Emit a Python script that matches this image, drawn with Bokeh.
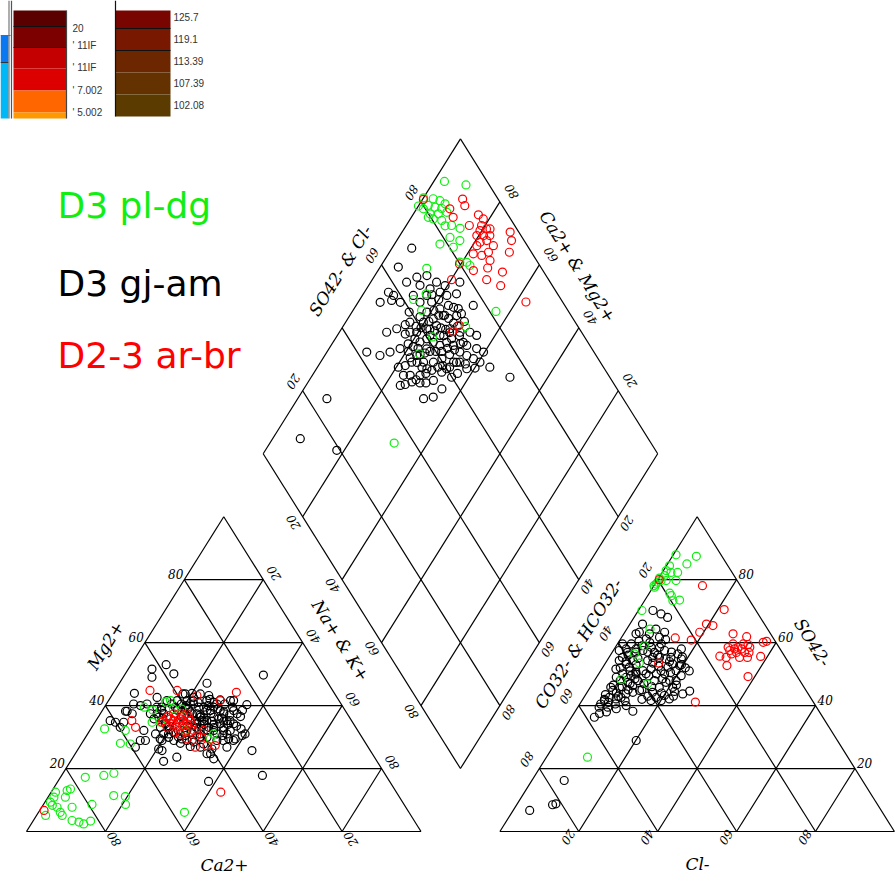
import numpy as np
from bokeh.plotting import figure
from bokeh.models import Range1d
from bokeh.embed import file_html
from bokeh.resources import INLINE
from bokeh.core.properties import value

# ---------------- data (percent values) ----------------
# cation triangle: (Mg2+ %, Na+ + K+ %)
green_cations = [(5.1, 2.3), (9.3, 1.4), (10.9, 1.5), (12.5, 1.1), (8.3, 2.4), (7.7, 3.9), (6.1, 5.5),
                 (5.1, 6.5), (10.9, 4.4), (13.0, 3.8), (13.5, 4.4), (7.7, 7.7), (3.5, 9.8), (3.0, 11.8),
                 (2.4, 13.3), (3.3, 14.6), (17.2, 6.3), (8.6, 12.3), (17.8, 10.7), (18.5, 12.9),
                 (11.4, 16.4), (11.1, 19.5), (8.6, 20.8), (6.1, 37.0), (32.6, 3.5), (28.0, 9.8),
                 (32.1, 9.0), (27.8, 12.4), (39.5, 10.1), (38.6, 12.7), (34.7, 14.5), (34.7, 16.6),
                 (41.1, 14.7), (41.6, 15.7), (38.9, 17.8), (38.9, 19.9), (32.1, 24.2), (31.0, 31.9),
                 (29.4, 31.9)]
black_cations = [(51.6, 6.0), (53.0, 8.9), (50.1, 12.3), (49.0, 7.3), (47.1, 22.2), (49.7, 35.2),
                 (43.9, 5.4), (38.2, 6.0), (34.7, 7.3), (34.7, 5.2), (35.2, 3.6), (33.1, 7.2),
                 (26.8, 14.2), (28.9, 14.4), (28.9, 15.7), (32.1, 13.7), (29.4, 19.2), (26.2, 20.4),
                 (25.7, 21.5), (22.3, 23.6), (23.6, 26.3), (23.1, 35.9), (24.7, 34.3), (28.9, 38.0),
                 (30.5, 39.4), (31.0, 39.9), (25.7, 44.3), (26.8, 37.4), (29.4, 38.2), (40.3, 35.7),
                 (41.6, 30.9), (41.8, 28.2), (43.2, 24.6), (43.7, 22.2), (43.9, 20.0), (43.7, 18.4),
                 (41.6, 17.4), (41.6, 14.8), (42.6, 11.8), (40.5, 10.3), (40.0, 8.9), (40.5, 6.9),
                 (38.2, 6.4), (37.4, 8.1), (37.4, 12.7), (37.4, 14.4), (36.3, 15.4), (35.8, 14.4),
                 (33.1, 17.4), (31.0, 19.3), (28.9, 19.9), (31.0, 17.2), (32.1, 24.6), (28.9, 26.2),
                 (26.8, 30.7), (24.7, 33.4), (28.9, 33.8), (31.0, 35.3), (32.1, 33.9), (34.2, 32.0),
                 (36.3, 29.3), (38.4, 27.4), (39.5, 25.2), (36.3, 25.9), (35.2, 28.1), (32.1, 31.4),
                 (31.0, 32.8), (35.2, 33.2), (38.4, 33.3), (37.4, 34.7), (35.2, 34.0), (37.4, 31.3),
                 (38.4, 29.9), (40.5, 28.0), (41.6, 24.9), (39.5, 23.9), (40.5, 22.1), (41.6, 19.9),
                 (37.4, 24.5), (35.2, 26.9), (39.5, 27.7), (32.1, 35.6), (34.2, 35.4), (29.9, 30.8),
                 (27.8, 31.0), (26.2, 33.9), (28.4, 28.2), (29.4, 24.7), (28.9, 22.9), (29.9, 21.1),
                 (34.2, 18.1), (39.5, 13.3), (41.6, 31.7), (32.6, 38.1), (17.8, 50.9), (15.9, 38.2),
                 (43.7, 17.8), (42.6, 21.0), (37.4, 23.3), (34.2, 26.1), (33.1, 29.6), (35.8, 30.8),
                 (31.0, 28.5), (35.2, 25.2), (28.9, 35.4),
                 (40.0, 20.5), (39.0, 21.5), (38.0, 22.5), (37.0, 25.5), (36.0, 27.0), (35.0, 29.5),
                 (34.0, 30.5), (33.0, 31.0), (32.5, 27.5), (33.5, 24.0), (34.5, 22.5), (36.5, 21.0),
                 (38.5, 19.0), (39.5, 18.0), (40.5, 16.5), (41.0, 23.0), (40.0, 26.0), (39.0, 29.0),
                 (38.0, 31.0), (37.0, 33.0), (36.0, 31.5), (35.0, 32.5), (34.0, 34.0), (33.0, 33.5),
                 (32.0, 30.0), (31.5, 26.0), (30.5, 25.0), (30.0, 23.5), (31.5, 21.5), (32.5, 20.0),
                 (33.5, 19.5), (36.0, 16.5), (37.5, 16.0), (38.5, 15.0), (39.5, 14.5), (35.5, 24.0),
                 (36.5, 26.0), (37.5, 28.0), (38.5, 26.5), (39.5, 20.5), (40.5, 19.0), (41.5, 21.5),
                 (42.0, 25.5), (41.0, 27.0), (30.0, 29.0), (29.0, 27.5), (28.0, 25.0), (27.0, 28.0),
                 (30.5, 34.5), (29.5, 36.5), (33.5, 36.5), (36.5, 36.0), (38.5, 35.5), (39.5, 32.5),
                 (40.5, 30.0), (34.0, 28.0), (35.0, 27.5), (33.0, 26.5), (32.0, 22.5), (31.0, 20.5)]
red_cations = [(6.7, 1.1), (44.8, 8.9), (35.2, 9.1), (33.1, 11.1), (44.8, 15.8), (43.2, 21.6),
               (41.6, 28.3), (44.2, 31.1), (35.2, 17.1), (36.8, 17.6), (37.4, 18.6), (36.3, 19.5),
               (35.8, 21.1), (36.8, 21.4), (37.4, 22.0), (34.2, 19.8), (33.1, 21.6), (33.7, 22.6),
               (34.2, 23.6), (35.2, 23.9), (33.1, 19.1), (31.5, 22.0), (31.5, 24.5), (31.0, 23.5),
               (32.1, 26.3), (35.8, 18.6), (34.7, 21.2), (35.2, 22.2), (36.3, 23.0), (37.4, 20.7),
               (35.2, 19.6), (36.3, 17.5), (33.7, 25.1), (29.4, 26.0), (26.8, 29.4), (29.9, 29.5),
               (27.3, 32.1), (27.3, 34.2), (32.1, 28.9), (30.5, 27.9), (12.5, 43.0), (34.7, 17.0)]

# anion triangle: (SO4 2- %, Cl- %)
green_anions = [(87.9, 0.7), (87.4, 6.1), (85.0, 4.9), (84.4, 0.8), (82.9, 0.7), (81.3, 1.1), (79.7, 1.0),
                (78.6, 0.3), (77.6, 0.4), (79.7, 2.3), (82.3, 2.2), (82.3, 3.9), (79.7, 4.8), (73.5, 8.8),
                (73.3, 7.2), (74.9, 6.0), (75.7, 5.2), (80.5, 0.2), (79.2, 0.4), (78.1, 0.0), (70.2, 0.9),
                (64.3, 5.9), (59.0, 7.1), (56.4, 5.9), (53.5, 8.6), (48.3, 6.6), (46.9, 14.0), (23.6, 10.4)]
black_anions = [(70.2, 3.7), (68.0, 8.5), (69.1, 6.3), (65.9, 3.2), (63.3, 3.7), (62.8, 6.5), (64.3, 7.4),
                (63.3, 10.1), (61.7, 9.6), (61.2, 6.5), (62.8, 3.1), (59.6, 3.5), (59.6, 1.3), (57.5, 1.5),
                (56.9, 3.9), (58.0, 5.5), (57.5, 7.5), (58.5, 9.1), (58.5, 11.2), (59.6, 11.1), (54.3, 3.1),
                (53.2, 5.4), (51.6, 3.6), (52.2, 6.7), (50.1, 6.1), (49.5, 8.5), (50.6, 9.2), (51.1, 10.7),
                (47.9, 11.0), (47.4, 8.7), (45.8, 7.4), (44.8, 6.2), (42.6, 6.4), (42.1, 8.4), (43.7, 10.1),
                (44.2, 11.6), (44.8, 13.0), (41.6, 5.7), (39.5, 5.4), (39.5, 7.6), (36.3, 5.8), (38.2, 14.6),
                (28.9, 20.1), (40.5, 5.3), (50.1, 12.0), (51.6, 12.5), (50.1, 14.6), (51.1, 15.3),
                (50.1, 16.7), (52.2, 16.5), (53.2, 17.2), (55.3, 15.7), (56.4, 16.9), (54.8, 18.6),
                (52.7, 19.2), (51.1, 19.1), (49.5, 21.2), (47.9, 20.7), (47.4, 18.4), (45.8, 17.5),
                (44.2, 16.6), (42.6, 18.3), (43.2, 20.1), (42.1, 21.9), (41.6, 20.1), (41.6, 17.5),
                (43.7, 24.5), (44.6, 25.8), (54.8, 14.7), (55.3, 12.8), (55.3, 11.1), (54.3, 10.3),
                (56.9, 10.7), (57.5, 13.0), (16.2, 8.2), (8.8, 9.8), (6.7, 4.2), (8.5, 9.1), (55.3, 3.4),
                (54.3, 6.5), (49.0, 7.5), (46.3, 10.5), (42.6, 9.4), (45.8, 5.2), (47.9, 15.2), (45.8, 20.9),
                (60.5, 5.0), (59.0, 6.5), (58.0, 3.0), (57.0, 6.0), (56.0, 4.5), (55.0, 7.5), (54.0, 5.0),
                (53.0, 8.0), (52.0, 4.5), (51.0, 7.5), (50.0, 9.5), (49.0, 5.0), (48.5, 10.0), (48.0, 6.5),
                (47.0, 9.5), (46.5, 5.5), (46.0, 8.0), (45.0, 10.0), (44.0, 7.5), (43.5, 5.0), (43.0, 8.5),
                (42.0, 5.5), (41.0, 7.0), (40.5, 9.0), (41.5, 11.0), (60.0, 8.0), (61.0, 11.5), (57.0, 9.0),
                (56.0, 12.0), (53.5, 12.0), (52.5, 14.0), (49.5, 13.0), (48.5, 17.0), (47.0, 13.0),
                (46.0, 15.5), (45.0, 13.5), (44.0, 19.0), (43.0, 16.0), (42.0, 15.0), (53.0, 19.5),
                (52.0, 21.0), (50.5, 18.0), (48.0, 19.0), (46.5, 21.5), (44.5, 22.0), (43.0, 22.5),
                (51.0, 22.5), (55.5, 18.5), (54.0, 16.0), (57.0, 15.0), (58.0, 17.0), (40.0, 12.0),
                (39.0, 10.0), (38.0, 8.0), (37.5, 6.5)]
red_anions = [(80.0, 0.4), (78.1, 12.3), (70.5, 21.6), (65.9, 19.4), (65.4, 21.3), (63.3, 19.0), (60.8, 18.1),
              (61.5, 13.7), (53.5, 13.5), (41.1, 29.0), (62.8, 27.7), (61.9, 31.6), (58.5, 28.6), (59.6, 29.3),
              (58.5, 31.1), (59.6, 31.9), (59.4, 33.2), (56.9, 31.5), (56.4, 30.5), (55.3, 33.1), (55.3, 29.7),
              (56.9, 33.6), (58.0, 30.5), (58.0, 32.2), (58.5, 34.1), (57.5, 29.5), (60.1, 36.7), (60.4, 37.4),
              (55.6, 38.3), (56.9, 34.7), (55.7, 27.9), (52.7, 31.2), (49.2, 38.3), (55.3, 35.1)]

# diamond: (Na+ + K+ %, SO4 2- + Cl- %)
green_diamond = [(2.7, 89.2), (8.7, 94.1), (0.0, 81.3), (0.0, 78.7), (1.7, 79.5), (2.4, 81.3), (2.6, 83.6),
                 (4.6, 85.0), (4.4, 82.7), (6.3, 84.2), (6.4, 85.8), (4.2, 80.4), (6.3, 82.5), (8.2, 84.9),
                 (4.3, 79.4), (5.8, 80.4), (8.2, 82.3), (9.9, 82.3), (11.5, 84.0), (14.1, 85.7), (13.0, 81.7),
                 (16.0, 83.7), (11.5, 78.1), (15.4, 81.0), (12.0, 70.9), (19.4, 80.3), (21.2, 82.0),
                 (22.5, 82.3), (15.9, 66.7), (13.6, 62.6), (17.4, 62.9), (24.4, 61.5), (23.7, 55.5),
                 (31.1, 71.5), (36.4, 81.6), (31.5, 34.9)]
black_diamond = [(5.0, 70.3), (4.6, 63.9), (6.1, 57.4), (7.9, 58.2), (5.6, 53.7), (9.1, 63.6), (10.9, 67.0),
                 (13.2, 69.8), (16.7, 71.2), (19.4, 72.8), (13.0, 66.5), (16.1, 68.5), (19.2, 70.5),
                 (21.4, 71.7), (23.6, 74.4), (22.6, 77.1), (29.7, 76.8), (12.0, 50.6), (14.0, 53.7),
                 (10.1, 42.4), (14.0, 45.2), (16.0, 48.3), (18.0, 51.4), (19.3, 54.2), (20.2, 56.7),
                 (16.3, 58.1), (19.7, 61.5), (21.7, 64.5), (23.7, 67.6), (27.5, 67.2), (30.6, 69.2),
                 (33.1, 71.7), (37.4, 70.8), (38.2, 68.4), (36.0, 67.2), (33.7, 66.0), (31.0, 65.4),
                 (28.8, 64.2), (26.0, 63.6), (23.5, 61.1), (19.6, 58.2), (17.9, 56.5), (23.3, 54.5),
                 (24.8, 58.1), (28.6, 57.7), (30.2, 60.4), (33.0, 60.0), (28.0, 55.0), (27.3, 52.2),
                 (31.5, 54.8), (32.3, 58.2), (35.6, 59.9), (24.8, 49.7), (23.1, 48.0), (23.9, 45.6),
                 (26.3, 49.1), (31.9, 49.4), (34.1, 52.1), (35.0, 55.6), (38.1, 65.1), (40.1, 67.3),
                 (43.7, 71.2), (50.4, 74.7), (33.0, 68.4), (21.6, 61.3), (23.6, 64.3), (15.7, 63.8),
                 (18.6, 66.8), (23.4, 70.5), (27.1, 71.0), (26.4, 72.5), (7.4, 24.9), (7.0, 11.8),
                 (18.1, 19.2), (40.4, 69.5), (39.7, 72.0), (27.6, 62.0), (25.4, 60.8), (22.0, 57.5),
                 (23.2, 59.7), (23.1, 52.2), (26.1, 55.2), (33.7, 62.8), (35.3, 64.4), (34.4, 68.8),
                 (35.3, 72.9), (21.8, 67.8), (16.3, 66.6), (12.9, 63.2), (10.7, 58.8), (8.2, 56.9),
                 (20.0, 60.0), (21.0, 63.0), (22.5, 62.0), (24.0, 63.0), (25.0, 65.0), (26.5, 66.0),
                 (27.0, 64.5), (28.0, 66.5), (29.5, 66.0), (30.0, 63.5), (31.5, 63.0), (32.0, 65.0),
                 (29.0, 61.5), (27.5, 60.0), (26.0, 58.5), (25.0, 57.0), (24.0, 55.5), (22.5, 56.0),
                 (21.0, 55.0), (20.5, 53.0), (22.0, 52.5), (24.5, 53.5), (26.5, 54.0), (28.5, 54.0),
                 (29.5, 56.0), (30.5, 58.0), (31.5, 59.5), (33.5, 61.0), (34.5, 63.5), (32.5, 67.5),
                 (31.0, 68.5), (29.0, 69.5), (27.5, 69.0), (25.5, 68.5), (24.0, 68.0), (22.5, 66.5),
                 (20.5, 66.0), (19.0, 64.0), (18.0, 61.5), (18.5, 59.0), (17.0, 55.0), (15.5, 56.5),
                 (14.5, 59.5), (17.5, 68.0), (20.0, 69.0), (25.0, 71.5), (28.0, 72.5), (30.0, 72.0),
                 (36.5, 62.0), (37.0, 65.5), (28.5, 51.0), (30.0, 52.5), (27.0, 50.5), (22.0, 50.0),
                 (20.5, 48.0), (25.0, 47.0)]
red_diamond = [(0.2, 81.0), (8.4, 86.2), (10.6, 85.7), (10.1, 91.0), (11.7, 90.5), (16.6, 92.5), (18.5, 93.1),
               (19.1, 91.6), (20.9, 92.3), (19.5, 90.4), (21.8, 93.2), (19.5, 88.8), (21.2, 90.5), (22.8, 92.1),
               (21.4, 88.6), (22.8, 90.5), (25.3, 91.4), (21.1, 87.2), (21.5, 85.0), (23.9, 86.9), (25.1, 89.1),
               (16.0, 88.5), (26.8, 88.2), (27.4, 97.8), (29.1, 96.8), (30.4, 94.4), (24.2, 82.4), (27.4, 86.4),
               (31.8, 89.5), (33.5, 86.9), (29.0, 84.3), (42.5, 90.7), (19.6, 79.9), (20.1, 75.4),
               (28.6, 67.4), (29.3, 70.1)]

group_names = ["D3 pl-dg", "D3 gj-am", "D2-3 ar-br"]
group_colors = ["#11ee11", "#000000", "#ff0000"]

ticks = [20, 40, 60, 80]

# colour-bar fragments in the top-left corner (labels as seen)
bar_red_labels = ["20", "' 11IF", "' 11IF", "' 7.002", "' 5.002"]
bar_brown_labels = ["125.7", "119.1", "113.39", "107.39", "102.08"]

# ---------------- geometry ----------------
W, H = 895, 889
SX, SY = 3.945, 3.635      # pixels per unit (side of a triangle = 100 units)
X0, Y0 = 26.0, 831.0       # pixel position of the Ca2+ corner
R3 = np.sqrt(3) / 2
GAP = 20.0

def px(xp):
    return (xp - X0) / SX

def py(yp):
    return (Y0 - yp) / SY

def cat_xy(mg, nak):
    return nak + mg / 2.0, mg * R3

def an_xy(so4, cl):
    return 100 + GAP + cl + so4 / 2.0, so4 * R3

BX, BY = 100 + GAP / 2.0, GAP * R3
LX, LY = BX - 50.0, BY + 100 * R3

def dia_xy(nak, sc):
    return LX + 0.5 * nak + 0.5 * sc, LY - R3 * nak + R3 * sc

p = figure(width=W, height=H, x_range=Range1d(px(0), px(W)), y_range=Range1d(py(H), py(0)),
           output_backend="svg", toolbar_location=None, min_border=0,
           x_axis_location=None, y_axis_location=None)
p.grid.visible = False
p.outline_line_color = None
p.background_fill_color = "white"
p.border_fill_color = "white"

# ---------------- grids ----------------
xs, ys = [], []
def seg(a, b):
    xs.append([a[0], b[0]]); ys.append([a[1], b[1]])

for f in (cat_xy, an_xy):
    seg(f(0, 0), f(0, 100)); seg(f(0, 100), f(100, 0)); seg(f(100, 0), f(0, 0))
    for t in ticks:
        seg(f(t, 0), f(t, 100 - t))
        seg(f(0, t), f(100 - t, t))
        seg(f(0, 100 - t), f(100 - t, 0))
seg(dia_xy(0, 0), dia_xy(100, 0)); seg(dia_xy(100, 0), dia_xy(100, 100))
seg(dia_xy(100, 100), dia_xy(0, 100)); seg(dia_xy(0, 100), dia_xy(0, 0))
for t in ticks:
    seg(dia_xy(t, 0), dia_xy(t, 100))
    seg(dia_xy(0, t), dia_xy(100, t))
p.multi_line(xs, ys, line_color="black", line_width=1.2)

# ---------------- points ----------------
groups = [
    (black_cations, black_anions, black_diamond, group_colors[1]),
    (green_cations, green_anions, green_diamond, group_colors[0]),
    (red_cations, red_anions, red_diamond, group_colors[2]),
]
for cats, ans, dia, col in groups:
    pts = [cat_xy(a, b) for a, b in cats] + [an_xy(a, b) for a, b in ans] + [dia_xy(a, b) for a, b in dia]
    p.scatter([q[0] for q in pts], [q[1] for q in pts], marker="circle", size=8,
              fill_color=None, line_color=col, line_width=1.2)

# ---------------- tick labels ----------------
FONT = value("DejaVu Serif")

def labels(pts, texts, off, ang, align="center", base="middle", size="12px"):
    p.text([q[0] + off[0] / SX for q in pts], [q[1] - off[1] / SY for q in pts], text=texts,
           angle=np.deg2rad(ang), text_font=FONT, text_font_style="italic", text_font_size=size,
           text_align=align, text_baseline=base, text_color="black")

rev = [str(t) for t in ticks[::-1]]
fwd = [str(t) for t in ticks]
# cation triangle
labels([cat_xy(t, 0) for t in ticks[::-1]], rev, (-1, -1), 0, "right", "bottom")
labels([cat_xy(t, 100 - t) for t in ticks[::-1]], fwd, (10, -6), 122)
labels([cat_xy(0, 100 - t) for t in ticks[::-1]], rev, (8, 8), 122)
# anion triangle
labels([an_xy(t, 100 - t) for t in ticks[::-1]], rev, (2, -1), 0, "left", "bottom")
labels([an_xy(t, 0) for t in ticks[::-1]], fwd, (-12, -9), -122)
labels([an_xy(0, t) for t in ticks], fwd, (-10, 6), -122)
# diamond
labels([dia_xy(0, t) for t in (20, 60, 80)], ["20", "60", "80"], (-9, -9), -122)
labels([dia_xy(t, 100) for t in ticks], rev, (11, -10), 122)
labels([dia_xy(t, 0) for t in ticks], fwd, (-10, 6), 122)
labels([dia_xy(100, t) for t in ticks], rev, (9, 7), -122)

# ---------------- axis titles ----------------
titles = [("Ca2+", 224, 864, 0), ("Cl-", 697, 863, 0), ("Mg2+", 105, 645, 58),
          ("Na+ & K+", 340, 640, -58), ("SO42-", 812, 642, -58), ("CO32- & HCO32-", 578, 643, 58),
          ("SO42- & Cl-", 340, 270, 58), ("Ca2+ & Mg2+", 577, 266, -58)]
for t, xp, yp, a in titles:
    p.text([px(xp)], [py(yp)], text=[t], angle=np.deg2rad(a), text_font=FONT,
           text_font_style="italic", text_font_size="17px", text_align="center",
           text_baseline="middle", text_color="black")

# ---------------- group labels ----------------
for name, col, yb in zip(group_names, group_colors, [205, 283, 355]):
    p.text([px(57)], [py(yb)], text=[name], text_font=value("DejaVu Sans"), text_font_size="36px",
           text_align="left", text_baseline="alphabetic", text_color=col)

# ---------------- colour-bar fragments (top-left) ----------------
rects = [(0, 8, 35, 62, "#0a78f0"), (0, 8, 62, 118, "#00b8f8"),
         (13, 66, 10, 26, "#5a0000"), (13, 66, 26, 47, "#7d0000"), (13, 66, 47, 68, "#c40000"),
         (13, 66, 68, 90, "#dc0000"), (13, 66, 90, 112, "#ff6600"), (13, 66, 112, 118, "#ff9900"),
         (115, 170, 10, 28, "#780500"), (115, 170, 28, 50, "#781800"), (115, 170, 50, 72, "#6c2600"),
         (115, 170, 72, 94, "#633200"), (115, 170, 94, 116, "#5b3b00")]
p.quad(left=[px(r[0]) for r in rects], right=[px(r[1]) for r in rects],
       top=[py(r[2]) for r in rects], bottom=[py(r[3]) for r in rects],
       fill_color=[r[4] for r in rects], line_color=None)
blines = [((13, 26), (66, 26), "#111111"), ((13, 47), (66, 47), "#111111"),
          ((115, 28), (170, 28), "#111111"), ((115, 50), (170, 50), "#111111"),
          ((0, 35), (10, 35), "#1a9a1a"), ((0, 62), (8, 62), "#333333"),
          ((8.5, 0), (8.5, 118), "#777777"), ((11, 0), (11, 118), "#555555"),
          ((115, 0), (115, 116), "#111111"), ((66, 10), (66, 118), "#444444")]
p.multi_line([[px(a[0]), px(b[0])] for a, b, c in blines], [[py(a[1]), py(b[1])] for a, b, c in blines],
             line_color=[c for a, b, c in blines], line_width=1.2)
p.text([px(72)] * 5, [py(v) for v in (27, 45, 67, 90, 112)], text=bar_red_labels,
       text_font=value("Liberation Sans"), text_font_size="10px", text_baseline="middle", text_color="#333333")
p.text([px(173)] * 5, [py(v) for v in (16, 38, 60, 82, 104)], text=bar_brown_labels,
       text_font=value("Liberation Sans"), text_font_size="10px", text_baseline="middle", text_color="#333333")

open("out.html", "w").write(file_html(p, INLINE))
